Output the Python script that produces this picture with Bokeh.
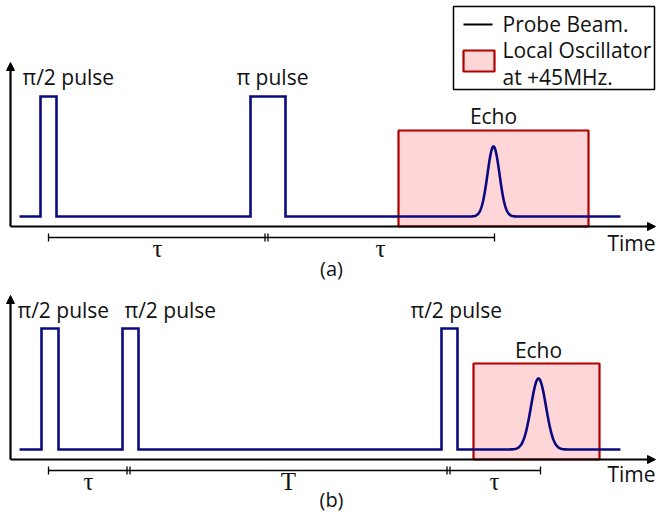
from bokeh.plotting import figure
from bokeh.models import Range1d, Arrow, NormalHead
from bokeh.core.properties import value
from bokeh.embed import file_html
from bokeh.resources import INLINE
import numpy as np

W, H = 656, 519

# ---- data (diagram time units) ----
# Panel (a): spin echo
a_pulse_start = [40, 250]
a_pulse_end = [56, 285]
a_pulse_labels = ["π/2 pulse", "π pulse"]
a_label_x = [22, 236]
a_echo_center = 493
a_echo_sigma = 6
a_lo_window = [398, 588]
a_span_marks = [48, 266, 494]
a_span_labels = ["τ", "τ"]

# Panel (b): stimulated echo
b_pulse_start = [41, 122, 441]
b_pulse_end = [58, 138, 457]
b_pulse_labels = ["π/2 pulse", "π/2 pulse", "π/2 pulse"]
b_label_x = [17, 124, 410]
b_echo_center = 538
b_echo_sigma = 7.5
b_lo_window = [473, 599]
b_span_marks = [48, 128, 448, 540]
b_span_labels = ["τ", "T", "τ"]

trace_start, trace_end = 19, 620

NAVY = "#0a0a80"
RED = "#b00000"
PINK = "#ffd6d8"
TXT = "#111111"
SANS = value("Open Sans")
SERIF = value("Liberation Serif")
FS = "21px"

p = figure(width=W, height=H, x_range=Range1d(0, W), y_range=Range1d(H, 0),
           output_backend="svg", toolbar_location=None, min_border=0)
p.axis.visible = False
p.grid.visible = False
p.outline_line_color = None
p.background_fill_color = "white"


def panel(off, pulse_start, pulse_end, labels, label_x, echo_c, echo_s, lo, marks,
          span_labels, caption, top, peak_h, lo_top, label_y, echo_y, span_lab_dy,
          time_y, cap_y):
    axis_y = 226 + off
    base = 216 + off
    # local oscillator window
    p.quad(left=[lo[0]], right=[lo[1]], top=[lo_top + off], bottom=[axis_y],
           fill_color=PINK, line_color=RED, line_width=2.2)
    # axes
    p.add_layout(Arrow(end=NormalHead(size=8, fill_color="black", line_color="black"),
                       x_start=10, y_start=axis_y, x_end=10, y_end=62 + off,
                       line_width=2.2, line_color="black"))
    p.add_layout(Arrow(end=NormalHead(size=8, fill_color="black", line_color="black"),
                       x_start=10, y_start=axis_y, x_end=655, y_end=axis_y,
                       line_width=2.2, line_color="black"))
    # probe trace
    xs = [trace_start]
    ys = [base]
    for s, e in zip(pulse_start, pulse_end):
        xs += [s, s, e, e]
        ys += [base, top + off, top + off, base]
    gx = np.linspace(echo_c - 4 * echo_s, echo_c + 4 * echo_s, 80)
    gy = base - peak_h * np.exp(-(gx - echo_c) ** 2 / (2 * echo_s ** 2))
    xs += list(gx) + [trace_end]
    ys += list(gy) + [base]
    p.line(xs, ys, line_color=NAVY, line_width=2.6, line_join="miter")
    # pulse labels
    p.text(x=label_x, y=[label_y + off] * len(label_x), text=labels,
           text_font=SANS, text_font_size=FS, text_baseline="middle",
           text_align="left", text_color=TXT)
    p.text(x=[echo_c], y=[echo_y + off], text=["Echo"], text_font=SANS,
           text_font_size=FS, text_baseline="middle", text_align="center",
           text_color=TXT)
    # time spans
    sy = 237 + off
    p.line([marks[0], marks[-1]], [sy, sy], line_color="black", line_width=1.5)
    tick_x = []
    for i, m in enumerate(marks):
        if i == 0 or i == len(marks) - 1:
            tick_x.append(m)
        else:
            tick_x += [m - 1.5, m + 1.5]
    p.segment(x0=tick_x, y0=[sy - 4] * len(tick_x), x1=tick_x, y1=[sy + 4] * len(tick_x),
              line_color="black", line_width=1.3)
    mids = [(marks[i] + marks[i + 1]) / 2 for i in range(len(marks) - 1)]
    p.text(x=mids, y=[sy + span_lab_dy] * len(mids), text=span_labels, text_font=SERIF,
           text_font_size="25px", text_baseline="middle", text_align="center",
           text_color=TXT)
    p.text(x=[655], y=[time_y + off], text=["Time"], text_font=SANS,
           text_font_size=FS, text_baseline="middle", text_align="right",
           text_color=TXT)
    p.text(x=[331], y=[cap_y + off], text=[caption], text_font=SANS,
           text_font_size="20px", text_baseline="middle", text_align="center",
           text_color=TXT)


panel(0, a_pulse_start, a_pulse_end, a_pulse_labels, a_label_x, a_echo_center,
      a_echo_sigma, a_lo_window, a_span_marks, a_span_labels, "(a)",
      top=96, peak_h=70, lo_top=130, label_y=76, echo_y=115, span_lab_dy=11,
      time_y=242, cap_y=268)
panel(233, b_pulse_start, b_pulse_end, b_pulse_labels, b_label_x, b_echo_center,
      b_echo_sigma, b_lo_window, b_span_marks, b_span_labels, "(b)",
      top=95, peak_h=71, lo_top=130, label_y=76, echo_y=116, span_lab_dy=11,
      time_y=240, cap_y=266)

# legend
p.quad(left=[453], right=[654], top=[6], bottom=[89], fill_color="white",
       line_color="black", line_width=1.5)
p.line([463, 492], [24, 24], line_color="black", line_width=2.2)
p.quad(left=[463], right=[494], top=[50], bottom=[71], fill_color=PINK,
       line_color=RED, line_width=2.2)
p.text(x=[502, 502, 502], y=[23, 49, 76],
       text=["Probe Beam.", "Local Oscillator", "at +45MHz."],
       text_font=SANS, text_font_size=FS, text_baseline="middle",
       text_align="left", text_color=TXT)

open("out.html", "w").write(file_html(p, INLINE))
